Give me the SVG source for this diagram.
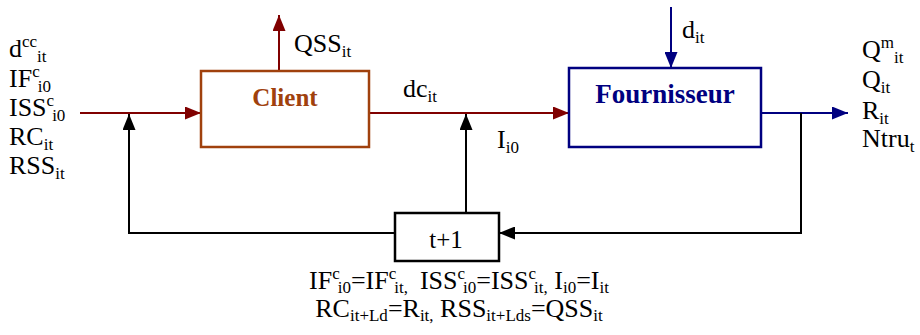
<svg xmlns="http://www.w3.org/2000/svg" width="920" height="335" viewBox="0 0 920 335">
  <style>
    text { font-family: "Liberation Serif", "Times New Roman", serif; fill: #000; }
    .lbl { font-size: 26px; }
    .s { font-size: 17px; }
    .box-client { fill: #fff; stroke: #A0410D; stroke-width: 2.5; }
    .box-four { fill: #fff; stroke: #000080; stroke-width: 2.5; }
    .box-delay { fill: #fff; stroke: #000; stroke-width: 2.5; }
    .title { font-weight: bold; font-size: 26px; text-anchor: middle; }
    .red { stroke: #800000; stroke-width: 2; fill: none; }
    .navy { stroke: #000080; stroke-width: 2; fill: none; }
    .blk { stroke: #000; stroke-width: 2; fill: none; }
  </style>
  <defs>
    <marker id="ahRed" markerWidth="16" markerHeight="13" refX="16" refY="6.5" orient="auto" markerUnits="userSpaceOnUse">
      <path d="M0,0 L16,6.5 L0,13 z" fill="#800000"/>
    </marker>
    <marker id="ahNavy" markerWidth="16" markerHeight="13" refX="16" refY="6.5" orient="auto" markerUnits="userSpaceOnUse">
      <path d="M0,0 L16,6.5 L0,13 z" fill="#000080"/>
    </marker>
    <marker id="ahBlk" markerWidth="16" markerHeight="13" refX="16" refY="6.5" orient="auto" markerUnits="userSpaceOnUse">
      <path d="M0,0 L16,6.5 L0,13 z" fill="#000"/>
    </marker>
  </defs>

  <!-- connectors -->
  <g id="connectors">
    <line class="red" x1="80" y1="113" x2="201" y2="113" marker-end="url(#ahRed)"/>
    <line class="red" x1="279" y1="71" x2="279" y2="15" marker-end="url(#ahRed)"/>
    <line class="red" x1="369" y1="113" x2="569" y2="113" marker-end="url(#ahRed)"/>
    <line class="navy" x1="671" y1="7" x2="671" y2="68" marker-end="url(#ahNavy)"/>
    <line class="navy" x1="761" y1="113" x2="848" y2="113" marker-end="url(#ahNavy)"/>
    <polyline class="blk" points="801,113 801,233 499,233" marker-end="url(#ahBlk)"/>
    <polyline class="blk" points="395,233 129,233 129,114" marker-end="url(#ahBlk)"/>
    <line class="blk" x1="466" y1="213" x2="466" y2="114" marker-end="url(#ahBlk)"/>
  </g>

  <!-- inputs of the client -->
  <g id="inputs" class="lbl">
    <text x="9" y="57">d<tspan class="s" dy="-10">cc</tspan><tspan class="s" dy="15">it</tspan></text>
    <text x="9" y="87">IF<tspan class="s" dy="-10">c</tspan><tspan class="s" dy="15" dx="-2">i0</tspan></text>
    <text x="9" y="116">ISS<tspan class="s" dy="-10">c</tspan><tspan class="s" dy="15" dx="-2">i0</tspan></text>
    <text x="9" y="145">RC<tspan class="s" dy="5">it</tspan></text>
    <text x="9" y="174">RSS<tspan class="s" dy="5">it</tspan></text>
  </g>

  <g id="client">
    <rect class="box-client" x="201" y="71" width="168" height="76"/>
    <text class="title" x="285" y="106" style="fill:#A0410D; font-size:25px">Client</text>
  </g>

  <g id="qss">
    <text class="lbl" x="294" y="52">QSS<tspan class="s" dy="5">it</tspan></text>
  </g>

  <g id="dc">
    <text class="lbl" x="403" y="97">dc<tspan class="s" dy="5">it</tspan></text>
  </g>

  <g id="i0">
    <text class="lbl" x="497" y="148">I<tspan class="s" dy="5">i0</tspan></text>
  </g>

  <g id="demand">
    <text class="lbl" x="682" y="38">d<tspan class="s" dy="5">it</tspan></text>
  </g>

  <g id="fournisseur">
    <rect class="box-four" x="569" y="68" width="192" height="79"/>
    <text class="title" x="665" y="103" style="fill:#000080; font-size:27px">Fournisseur</text>
  </g>

  <!-- outputs of the supplier -->
  <g id="outputs" class="lbl">
    <text x="862" y="58">Q<tspan class="s" dy="-10">m</tspan><tspan class="s" dy="15">it</tspan></text>
    <text x="862" y="88">Q<tspan class="s" dy="5">it</tspan></text>
    <text x="862" y="119">R<tspan class="s" dy="5">it</tspan></text>
    <text x="862" y="147">Ntru<tspan class="s" dy="5">t</tspan></text>
  </g>

  <g id="delay">
    <rect class="box-delay" x="395" y="213" width="104" height="48"/>
    <text x="446" y="248" text-anchor="middle" style="font-size:25px">t+1</text>
  </g>

  <!-- state update equations -->
  <g id="update" class="lbl">
    <text x="459" y="289" text-anchor="middle">IF<tspan class="s" dy="-10">c</tspan><tspan class="s" dy="14" dx="-2">i0</tspan><tspan dy="-4">=IF</tspan><tspan class="s" dy="-10">c</tspan><tspan class="s" dy="14" dx="-2">it,</tspan><tspan dy="-4" dx="12">ISS</tspan><tspan class="s" dy="-10">c</tspan><tspan class="s" dy="14" dx="-2">i0</tspan><tspan dy="-4">=ISS</tspan><tspan class="s" dy="-10">c</tspan><tspan class="s" dy="14" dx="-2">it,</tspan><tspan dy="-4"> I</tspan><tspan class="s" dy="4">i0</tspan><tspan dy="-4">=I</tspan><tspan class="s" dy="4">it</tspan></text>
    <text x="459" y="317" text-anchor="middle">RC<tspan class="s" dy="4">it+Ld</tspan><tspan dy="-4">=R</tspan><tspan class="s" dy="4">it,</tspan><tspan dy="-4"> RSS</tspan><tspan class="s" dy="4">it+Lds</tspan><tspan dy="-4">=QSS</tspan><tspan class="s" dy="4">it</tspan></text>
  </g>
</svg>
